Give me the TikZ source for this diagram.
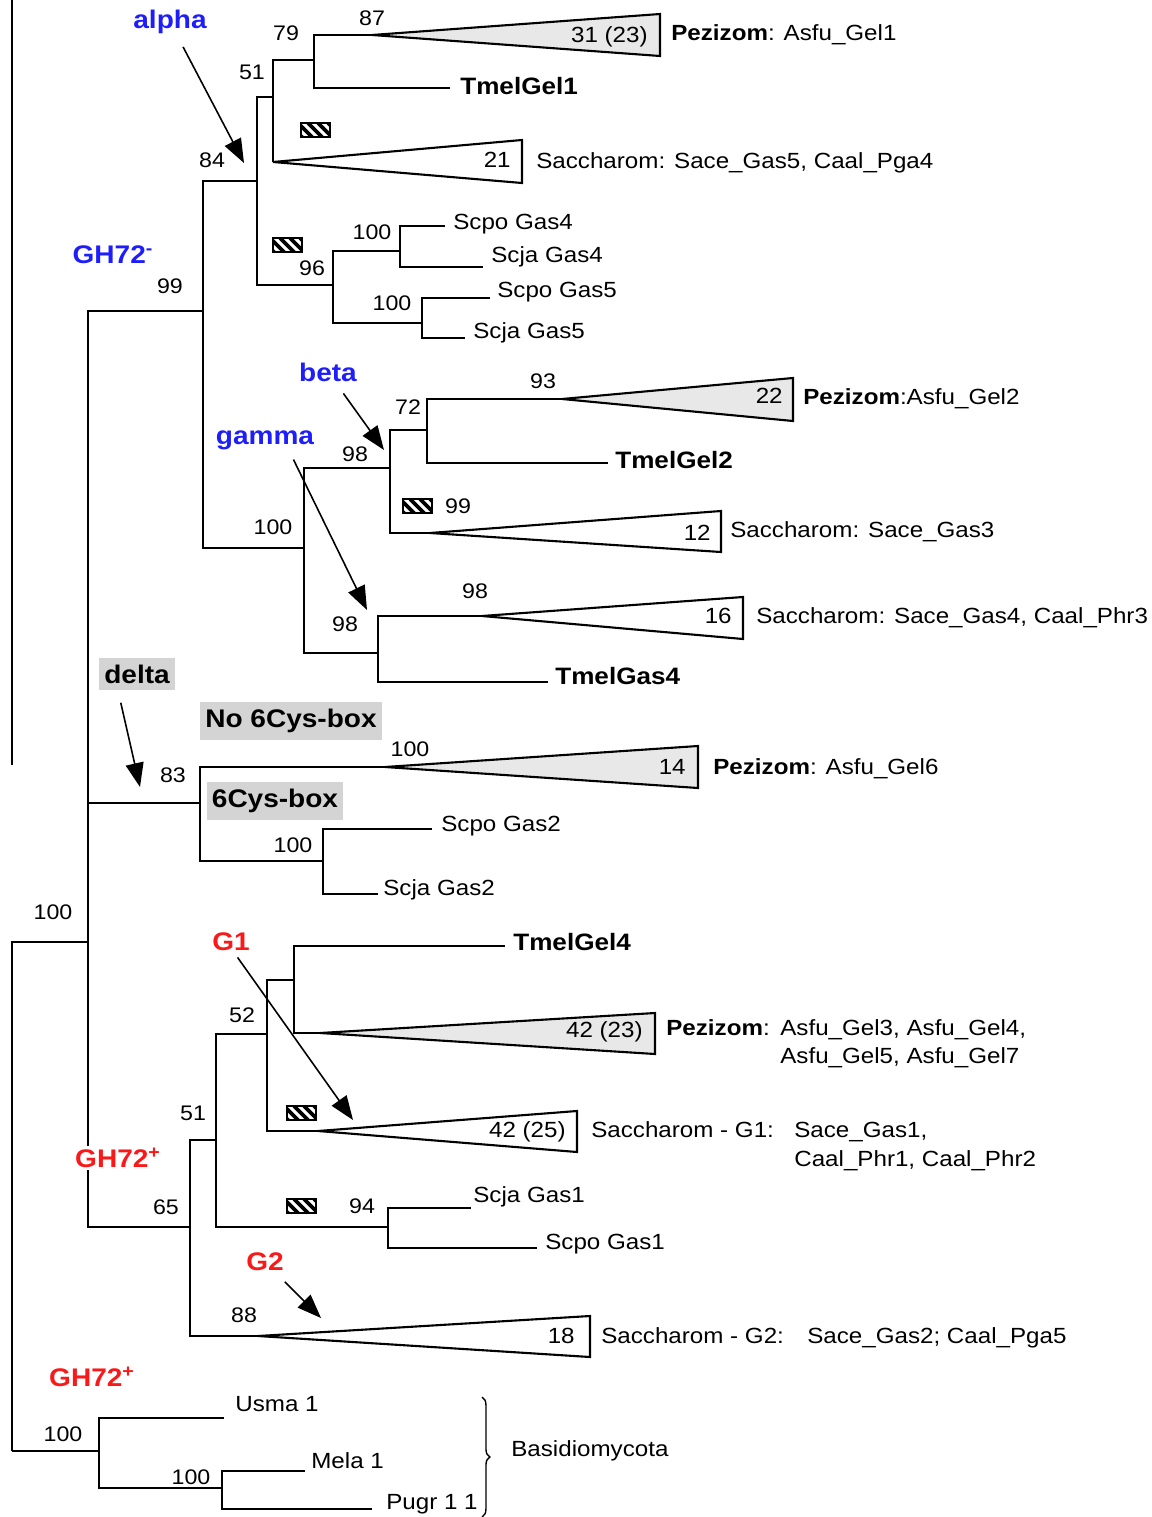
\documentclass[tikz,border=0pt]{standalone}
\usepackage{fontspec}
\setmainfont[FakeStretch=1.1]{Liberation Sans}
\usepackage{tikz}
\usetikzlibrary{arrows.meta}
\usetikzlibrary{decorations.pathreplacing}
\definecolor{cladeblue}{RGB}{30,30,250}
\definecolor{cladered}{RGB}{250,25,25}
\definecolor{boxgray}{RGB}{212,212,212}
\definecolor{wedgegray}{RGB}{232,232,232}
\newcommand{\clade}[5]{ \draw[wedge,fill=#5] (#1) -- (#2,#3) -- (#2,#4) -- cycle;}
\newcommand{\hatch}[2]{ \begin{scope} \clip (#1,#2) rectangle ++(29,14);
  \foreach \k in {-13,-3,...,27} \draw[line width=2.1pt] (#1,#2) ++(\k,0) -- ++(15,15);
  \end{scope} \draw[line width=0.8pt] (#1,#2) rectangle ++(29,14);}

\begin{document}
\begin{tikzpicture}[x=0.02cm,y=-0.02cm,
    branch/.style={line width=1.1pt},
    wedge/.style={line width=1.2pt},
    boot/.style={font=\fontsize{12}{14}\selectfont,inner sep=0pt,text height=8.6pt,text depth=0pt},
    leaf/.style={font=\fontsize{12.5}{15}\selectfont,anchor=west,inner sep=0pt,text height=9pt,text depth=0pt},
    tmel/.style={font=\fontsize{13.5}{16}\selectfont\bfseries,anchor=west,inner sep=0pt,text height=9.7pt,text depth=0pt},
    tally/.style={font=\fontsize{12.5}{15}\selectfont,anchor=east,inner sep=0pt,text height=9pt,text depth=0pt},
    grp/.style={font=\fontsize{14.5}{17}\selectfont\bfseries,inner sep=1pt},
    graybox/.style={font=\fontsize{14.5}{17}\selectfont\bfseries,fill=boxgray,inner xsep=3pt,inner ysep=4pt},
    pointer/.style={line width=0.9pt,-{Triangle[length=0.48cm,width=0.36cm]},shorten <=7pt}]
  \useasboundingbox (0,0) rectangle (1152,1517);
  % stray frame line
  \draw[branch] (12,0) -- (12,765);
  % inner nodes
  \coordinate (root) at (12,1451);
  \coordinate (top) at (88,942);
  \coordinate (gminus) at (203,311);
  \coordinate (n84) at (257,181);
  \coordinate (n51) at (273,97);
  \coordinate (n79) at (314,60);
  \coordinate (n96) at (333,285);
  \coordinate (n100a) at (400,251);
  \coordinate (n100b) at (422,323);
  \coordinate (n100c) at (304,548);
  \coordinate (n98a) at (390,468);
  \coordinate (n72) at (427,430);
  \coordinate (n98b) at (378,653);
  \coordinate (n83) at (200,803);
  \coordinate (n100d) at (323,861);
  \coordinate (gplus) at (190,1227);
  \coordinate (n51b) at (216,1140);
  \coordinate (n52) at (267,1034);
  \coordinate (n52b) at (294,980);
  \coordinate (n94) at (388,1227);
  \coordinate (basid) at (99,1451);
  \coordinate (n100e) at (222,1488);
  % tips
  \coordinate (pez1) at (372,35);
  \coordinate (tgel1) at (450,88);
  \coordinate (sac21) at (273,162);
  \coordinate (scpo4) at (445,226);
  \coordinate (scja4) at (483,267);
  \coordinate (scpo5) at (490,298);
  \coordinate (scja5) at (465,338);
  \coordinate (pez2) at (562,399);
  \coordinate (tgel2) at (608,463);
  \coordinate (sac12) at (430,533);
  \coordinate (sac16) at (482,616);
  \coordinate (tgas4) at (548,682);
  \coordinate (pez6) at (385,767);
  \coordinate (scpo2) at (432,829);
  \coordinate (scja2) at (378,894);
  \coordinate (tgel4) at (505,946);
  \coordinate (pez3) at (320,1033);
  \coordinate (sac1) at (318,1131);
  \coordinate (scja1) at (471,1208);
  \coordinate (scpo1) at (537,1248);
  \coordinate (sac2) at (258,1336);
  \coordinate (usma) at (224,1418);
  \coordinate (mela) at (305,1471);
  \coordinate (pugr) at (372,1509);
  % branches
  \draw[branch] (root) |- (top) (root) -- (basid);
  \draw[branch] (top) |- (gminus) (top) |- (n83) (top) |- (gplus);
  \draw[branch] (gminus) |- (n84) (gminus) |- (n100c);
  \draw[branch] (n84) |- (n51) (n84) |- (n96);
  \draw[branch] (n51) |- (n79) (n51) |- (sac21);
  \draw[branch] (n79) |- (pez1) (n79) |- (tgel1);
  \draw[branch] (n96) |- (n100a) (n96) |- (n100b);
  \draw[branch] (n100a) |- (scpo4) (n100a) |- (scja4);
  \draw[branch] (n100b) |- (scpo5) (n100b) |- (scja5);
  \draw[branch] (n100c) |- (n98a) (n100c) |- (n98b);
  \draw[branch] (n98a) |- (n72) (n98a) |- (sac12);
  \draw[branch] (n72) |- (pez2) (n72) |- (tgel2);
  \draw[branch] (n98b) |- (sac16) (n98b) |- (tgas4);
  \draw[branch] (n83) |- (pez6) (n83) |- (n100d);
  \draw[branch] (n100d) |- (scpo2) (n100d) |- (scja2);
  \draw[branch] (gplus) |- (n51b) (gplus) |- (sac2);
  \draw[branch] (n51b) |- (n52) (n51b) |- (n94);
  \draw[branch] (n52) |- (n52b) (n52) |- (sac1);
  \draw[branch] (n52b) |- (tgel4) (n52b) |- (pez3);
  \draw[branch] (n94) |- (scja1) (n94) |- (scpo1);
  \draw[branch] (basid) |- (usma) (basid) |- (n100e);
  \draw[branch] (n100e) |- (mela) (n100e) |- (pugr);
  % collapsed clades
  \clade{pez1}{660}{14}{56}{wedgegray}
  \clade{sac21}{522}{140}{183}{white}
  \clade{pez2}{793}{378}{421}{wedgegray}
  \clade{sac12}{721}{511}{552}{white}
  \clade{sac16}{743}{597}{639}{white}
  \clade{pez6}{698}{746}{788}{wedgegray}
  \clade{pez3}{655}{1013}{1054}{wedgegray}
  \clade{sac1}{577}{1111}{1152}{white}
  \clade{sac2}{590}{1316}{1357}{white}
  % clade sizes
  \node[tally] (c1) at (648,35) {31 (23)};
  \node[tally] (c2) at (511,160) {21};
  \node[tally] (c3) at (783,396) {22};
  \node[tally] (c4) at (711,533) {12};
  \node[tally] (c5) at (732,616) {16};
  \node[tally] (c6) at (686,767) {14};
  \node[tally] (c7) at (643,1030) {42 (23)};
  \node[tally] (c8) at (566,1130) {42 (25)};
  \node[tally] (c9) at (575,1336) {18};
  % hatched boxes
  \hatch{301}{123}
  \hatch{273}{238}
  \hatch{403}{499}
  \hatch{287}{1106}
  \hatch{287}{1199}
  % bootstrap values
  \node[boot] (b1) at (372,18) {87};
  \node[boot] (b2) at (286,33) {79};
  \node[boot] (b3) at (252,72) {51};
  \node[boot] (b4) at (212,160) {84};
  \node[boot] (b5) at (170,286) {99};
  \node[boot] (b6) at (372,232) {100};
  \node[boot] (b7) at (312,268) {96};
  \node[boot] (b8) at (392,303) {100};
  \node[boot] (b9) at (408,407) {72};
  \node[boot] (b10) at (543,381) {93};
  \node[boot] (b11) at (355,454) {98};
  \node[boot] (b12) at (458,506) {99};
  \node[boot] (b13) at (273,527) {100};
  \node[boot] (b14) at (475,591) {98};
  \node[boot] (b15) at (345,624) {98};
  \node[boot] (b16) at (410,749) {100};
  \node[boot] (b17) at (173,775) {83};
  \node[boot] (b18) at (293,845) {100};
  \node[boot] (b19) at (53,912) {100};
  \node[boot] (b20) at (242,1015) {52};
  \node[boot] (b21) at (193,1113) {51};
  \node[boot] (b22) at (362,1206) {94};
  \node[boot] (b23) at (166,1207) {65};
  \node[boot] (b24) at (244,1315) {88};
  \node[boot] (b25) at (63,1434) {100};
  \node[boot] (b26) at (191,1477) {100};
  % leaf labels
  \node[tmel] (ltgel1) at (460,86) {TmelGel1};
  \node[leaf] (lscpo4) at (453,222) {Scpo Gas4};
  \node[leaf] (lscja4) at (491,255) {Scja Gas4};
  \node[leaf] (lscpo5) at (497,290) {Scpo Gas5};
  \node[leaf] (lscja5) at (473,331) {Scja Gas5};
  \node[tmel] (ltgel2) at (615,460) {TmelGel2};
  \node[tmel] (ltgas4) at (555,676) {TmelGas4};
  \node[leaf] (lscpo2) at (441,824) {Scpo Gas2};
  \node[leaf] (lscja2) at (383,888) {Scja Gas2};
  \node[tmel] (ltgel4) at (513,942) {TmelGel4};
  \node[leaf] (lscja1) at (473,1195) {Scja Gas1};
  \node[leaf] (lscpo1) at (545,1242) {Scpo Gas1};
  \node[leaf] (lusma) at (235,1404) {Usma 1};
  \node[leaf] (lmela) at (311,1461) {Mela 1};
  \node[leaf] (lpugr) at (386,1502) {Pugr 1 1};
  % clade labels
  \node[leaf] (lpez1) at (671,33) {\textbf{Pezizom}: Asfu\_Gel1};
  \node[leaf] (lsac21) at (536,161) {Saccharom: Sace\_Gas5, Caal\_Pga4};
  \node[leaf] (lpez2) at (803,397) {\textbf{Pezizom}:Asfu\_Gel2};
  \node[leaf] (lsac12) at (730,530) {Saccharom: Sace\_Gas3};
  \node[leaf] (lsac16) at (756,616) {Saccharom: Sace\_Gas4, Caal\_Phr3};
  \node[leaf] (lpez6) at (713,767) {\textbf{Pezizom}: Asfu\_Gel6};
  \node[leaf] (lpez3) at (666,1028) {\textbf{Pezizom}:};
  \node[leaf] (lpez3a) at (780,1028) {Asfu\_Gel3, Asfu\_Gel4,};
  \node[leaf] (lpez3b) at (780,1056) {Asfu\_Gel5, Asfu\_Gel7};
  \node[leaf] (lsac1) at (591,1130) {Saccharom - G1:};
  \node[leaf] (lsac1a) at (794,1130) {Sace\_Gas1,};
  \node[leaf] (lsac1b) at (794,1159) {Caal\_Phr1, Caal\_Phr2};
  \node[leaf] (lsac2) at (601,1336) {Saccharom - G2:};
  \node[leaf] (lsac2a) at (807,1336) {Sace\_Gas2; Caal\_Pga5};
  % Basidiomycota
  \draw[line width=0.8pt,decorate,decoration={brace,amplitude=4.5pt}] (482,1397) -- (482,1517);
  \node[leaf] (lbasid) at (511,1449) {Basidiomycota};
  % group tags
  \node[grp,text=cladeblue] (alpha) at (170,22) {alpha};
  \node[grp,text=cladeblue] (ghminus) at (113,255) {GH72\textsuperscript{-}};
  \node[grp,text=cladeblue] (beta) at (328,372) {beta};
  \node[grp,text=cladeblue] (gamma) at (265,440) {gamma};
  \node[graybox] (delta) at (137,674) {delta};
  \node[graybox] (nocys) at (291,721) {No 6Cys-box};
  \node[graybox] (cys) at (275,801) {6Cys-box};
  \node[grp,text=cladered] (gone) at (231,942) {G1};
  \node[grp,text=cladered,fill=white] (ghplus) at (118,1158) {GH72\textsuperscript{+}};
  \node[grp,text=cladered] (gtwo) at (265,1262) {G2};
  \node[grp,text=cladered] (ghplusb) at (92,1377) {GH72\textsuperscript{+}};
  % arrows
  \coordinate (alphatip) at (244,163);
  \coordinate (betatip) at (384,450);
  \coordinate (gammatip) at (367,610);
  \coordinate (deltatip) at (140,787);
  \coordinate (gonetip) at (353,1120);
  \coordinate (gtwotip) at (321,1318);
  \draw[pointer] (alpha) -- (alphatip);
  \draw[pointer] (beta) -- (betatip);
  \draw[pointer,shorten <=5pt] ([xshift=14pt]gamma.south) -- (gammatip);
  \draw[pointer] ([xshift=-10.8pt]delta.south) -- (deltatip);
  \draw[pointer,shorten <=3pt] ([xshift=2pt]gone.south) -- (gonetip);
  \draw[pointer] (gtwo) -- (gtwotip);
\end{tikzpicture}
\end{document}
